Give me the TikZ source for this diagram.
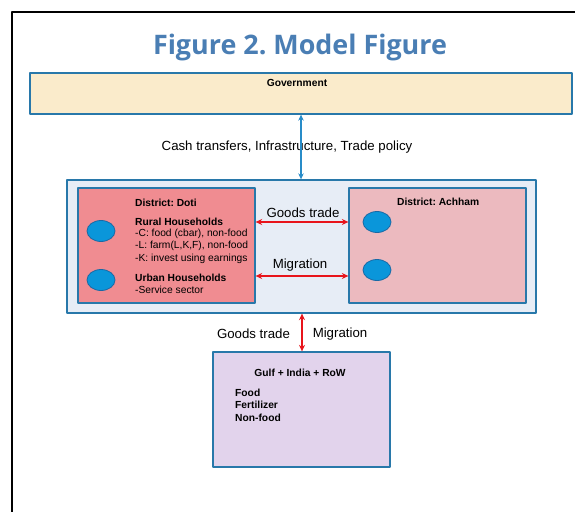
\documentclass[tikz,border=0pt]{standalone}
\usepackage{fontspec}
\setmainfont{Liberation Sans}
\newfontfamily\titlefont{Open Sans}
\frenchspacing
\definecolor{titleblue}{RGB}{74,126,180}
\definecolor{boxline}{RGB}{40,120,170}
\definecolor{govfill}{RGB}{250,235,203}
\definecolor{midfill}{RGB}{231,237,246}
\definecolor{dotifill}{RGB}{240,140,145}
\definecolor{achfill}{RGB}{236,186,191}
\definecolor{rowfill}{RGB}{226,211,236}
\definecolor{hhfill}{RGB}{10,150,218}
\definecolor{hhline}{RGB}{25,105,165}
\definecolor{arrred}{RGB}{232,20,27}
\definecolor{arrblue}{RGB}{40,140,200}
\usetikzlibrary{shapes.geometric,arrows.meta}
\tikzset{
  panel/.style={draw=boxline, line width=1.3bp, inner sep=0pt},
  hh/.style={ellipse, draw=hhline, fill=hhfill, line width=0.8bp, minimum width=28bp, minimum height=21bp, inner sep=0pt},
  small/.style={font=\fontsize{10.3}{12.3}\selectfont, inner sep=0pt},
  smallb/.style={font=\fontsize{10.3}{12.3}\selectfont\bfseries, inner sep=0pt},
  lbl/.style={font=\fontsize{13.3}{15}\selectfont, inner sep=0pt},
  flow/.style={{Stealth[length=6.5bp,width=6bp]}-{Stealth[length=6.5bp,width=6bp]}, arrred, line width=2bp},
}
\begin{document}
\begin{tikzpicture}[x=1bp, y=-1bp, line join=round]
\useasboundingbox (0,0) rectangle (575,512);
\draw[line width=1.6bp] (12,512) |- (575,12);
\node[font=\titlefont\fontsize{27}{30}\selectfont\bfseries, text=titleblue, anchor=base] (title) at (300,55) {Figure 2. Model Figure};
\node[panel, fill=govfill, minimum width=542bp, minimum height=41bp] (gov) at (301,93.5) {};
\node[smallb, anchor=base] (govt) at (297,86.5) {Government};
\node[lbl] (policy) at (287,147) {Cash transfers, Infrastructure, Trade policy};
\node[panel, fill=midfill, minimum width=469bp, minimum height=133bp] (mid) at (301.5,246.5) {};
\node[panel, fill=dotifill, minimum width=177bp, minimum height=115bp] (doti) at (166.5,245.5) {};
\node[panel, fill=achfill, minimum width=177bp, minimum height=115bp] (achham) at (437.5,245.5) {};
\node[panel, fill=rowfill, minimum width=177bp, minimum height=115bp] (row) at (301.5,409.5) {};
\coordinate (topx) at (301,0);
\coordinate (lowx) at (302,0);
\coordinate (gty) at (0,222);
\coordinate (migy) at (0,276);
\draw[{Stealth[length=6bp,width=5.5bp]}-{Stealth[length=6bp,width=5.5bp]}, arrblue, line width=1.6bp] (gov.south -| topx) -- (mid.north -| topx);
\draw[flow] (doti.east |- gty) -- (achham.west |- gty);
\draw[flow] (doti.east |- migy) -- (achham.west |- migy);
\draw[flow] (mid.south -| lowx) -- (row.north -| lowx);
\node[lbl] (gtlbl) at (303,213) {Goods trade};
\node[lbl] (miglbl) at (300,265) {Migration};
\node[lbl] (gtlow) at (253.5,334) {Goods trade};
\node[lbl] (miglow) at (340,334) {Migration};
\foreach \x/\y/\n in {101/231/1,101/280/2,377/222/3,377/270/4}
  \node[hh] (hh\n) at (\x,\y) {};
\node[smallb, anchor=west] (dotit) at (135,203) {District: Doti};
\node[smallb, anchor=west] (rural) at (135,222) {Rural Households};
\foreach \y/\tx in {234/{-C: food (cbar), non-food},246/{-L: farm(L,K,F), non-food},259/{-K: invest using earnings}}
  \node[small, anchor=west] (rl\y) at (135,\y) {\tx};
\node[smallb, anchor=west] (urban) at (135,278) {Urban Households};
\node[small, anchor=west] (serv) at (135,290) {-Service sector};
\node[smallb, anchor=west] (acht) at (397,202) {District: Achham};
\node[smallb] (rowt) at (300,373) {Gulf + India + RoW};
\foreach \y/\tx in {393/Food,405/Fertilizer,418/Non-food}
  \node[smallb, anchor=west] (good\y) at (235,\y) {\tx};
\end{tikzpicture}
\end{document}
